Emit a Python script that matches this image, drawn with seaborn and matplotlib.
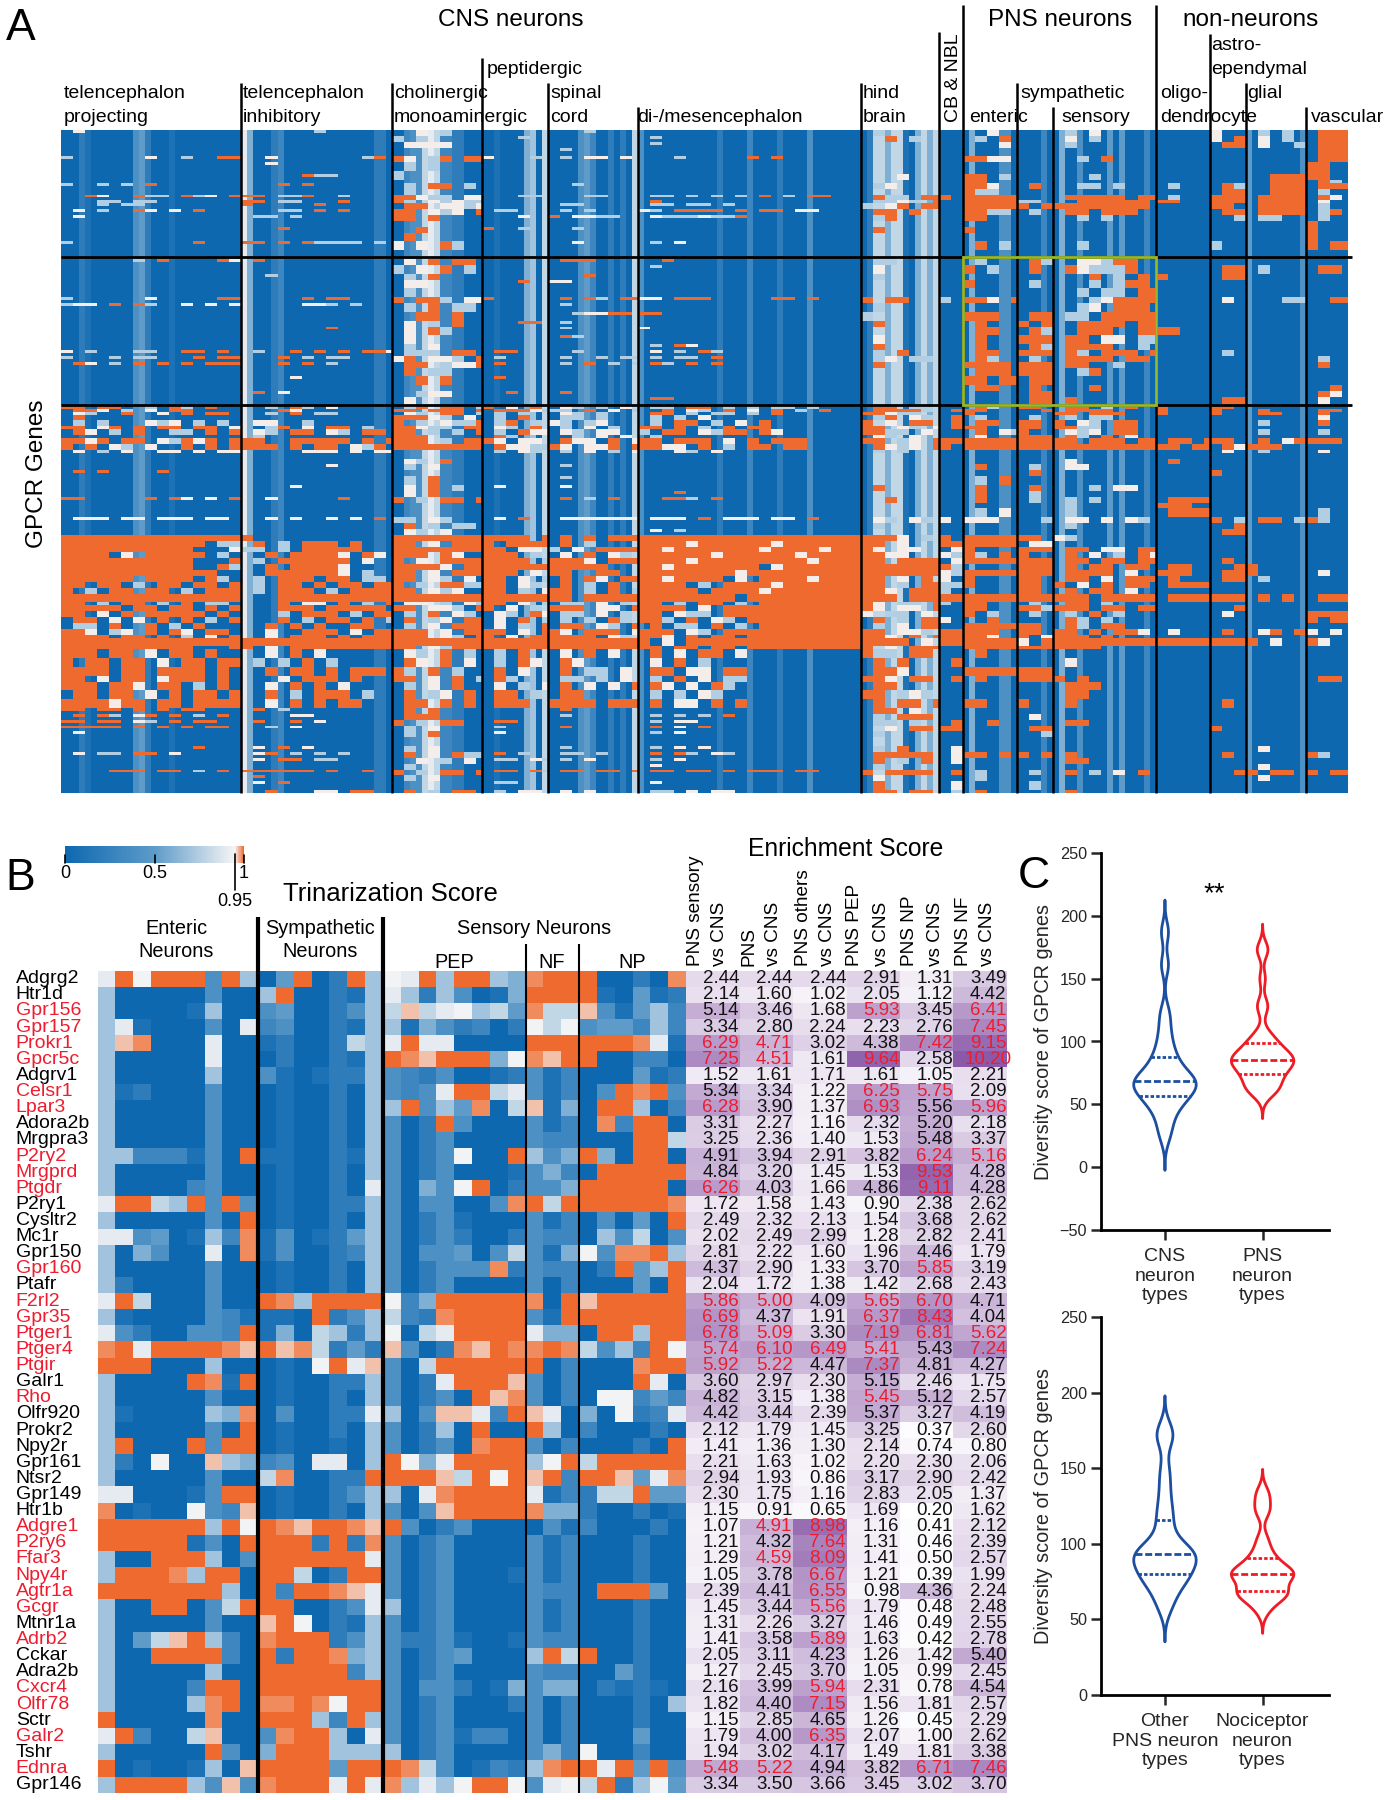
import numpy as np
import pandas as pd
import seaborn as sns
import matplotlib.pyplot as plt
from matplotlib.colors import LinearSegmentedColormap
from matplotlib.patches import Rectangle

sns.set_theme(style="white")
plt.rcParams['font.family'] = ['Liberation Sans', 'DejaVu Sans']

# ---- panel A data: P I C E S D H B N Y R O A G V, one char = 2 grid columns
A_group_cols = [30, 25, 15, 11, 15, 37, 13, 4, 9, 6, 17, 9, 6, 10, 7]
A_group_line_tops = [83, 83, 58, 83, 107, 83, 32, 5, 83, 107, 5, 34, 83, 107]
A_stripe_cols = [3, 4, 12, 13, 14, 18, 30, 31, 35, 36, 52, 53, 57, 58, 59, 60, 61, 62, 63, 64, 65, 66, 72, 77, 78, 80, 86, 87, 88, 91, 93,
                 95, 96, 109, 114, 119, 124, 134, 135, 136, 137, 138, 139, 140, 142, 143, 144, 145, 151, 156, 157, 163, 166, 169, 174, 176, 180, 197, 206]
A_stripe_levels = [2, 1, 4, 5, 2, 1, 9, 6, 2, 3, 2, 2, 3, 4, 4, 8, 9, 8, 3, 3, 2, 2, 1, 6, 7, 8, 4, 5, 3, 2, 2,
                   8, 4, 2, 3, 2, 4, 2, 8, 8, 6, 8, 8, 1, 6, 8, 6, 8, 6, 4, 4, 3, 6, 4, 5, 5, 3, 5, 4]
A_sparse_groups = [0, 1, 3, 4, 5]

A_rows_top = [
    (2, ".w.|......l.|..w.l.|.|...l.|.|.l.|.|..w.|.|.l.w.|.|w.|.l.l.|.ooo"),
    (2, ".|.|l.l.|...l.|.|.l.|..o.l.|.|.l.o.|.|.w.l.|.|w.o.|.w.l.|.ooo"),
    (2, ".|.|.wwww.|.|.|.l.|.|.|...w.|.|.l.|.|.oo.|.w..l.|.ooo"),
    (1, ".|.|.|.|.l.|.|.|.|.|.|.|.|.|.|.ooo"),
    (2, ".|.|.|.|.|.|.|.|.|.|.|.|.|.|.ooo"),
    (2, "l......w..l..oo.|..w.......lo.|ow.lo.oo|w...l.|.l.ww.w.|...l.....o.o.|.|.|ooww.|.|..l.o.|.|.|.|.ooo"),
    (3, ".|..w.|.l.l.|.|.|.|.|.|.|.|.|.|.|.|oo."),
    (1, ".|.|l.|.|.|.|.|.|.|.|.|.|.|.|oo."),
    (2, ".|.....oll.|l.|.|.|.|...w.|.|oo.l.|.|...l.|.|.|..oooo|oo."),
    (1, ".|.|.|.|.|.|.|.|oo.|.|.|.|.|..oooo|.ol"),
    (2, "l..l.l.o.|...o.o..|.l.oo.l.|.|..l.|.|.lw.|.|oow.|.o.|..ll.l.|.l.|.ol.|..oooo|.ooo"),
    (2, ".|.|.l.|.|.|.|.|.|oll.|.|.|.|.oo|..oooo|.l."),
    (2, "..ow..oll.olw.o.|oo.llo..l.|oowll.wwl.|...ll.|...ll.|.ll.l.l.l.o.l.oo.|.oll.oo.|o.|o|.|.ooooo.oo|.l.|o|.oooo|.ow."),
    (1, "...ll.ll.|oo.ll...o.|ol.wlwll.|.|.|.o.|.llwl.o.|.|o|ll.|..oooooo|oo.|o|.oooo|.w."),
    (2, "...l.ll.|o.....o.|.oo.wwlw.|.|.ll.|.ll.ll.l.|l.wo.oo.|.|o|o.o.|oooooooo|.|oo|.oooo|.l."),
    (2, ".w.l..ow.w.o.|...ll.o.o.|oo.wlw.o.|.ll.|.l.l.|wl.oooo.o.oo.ww.|.oo.o.|.|ooll.|.l.|.oo.ooo.|.|.oo|.oooo|.lo."),
    (2, ".w.|.ll.l.|oo.o.|...w.|o.wwll.|.wlllwllo.|.lo.|.|oo.|.|..l.l.|.|..l.|.ll.|.l."),
    (2, ".|.|.|.|.|.|.|.|.|.|.|.|.|.|o."),
    (2, ".|...o.|..o.|o..l.|..l.|.|.o.|.|o.|.|.|.|.|.|o."),
    (3, ".|.|.o.|.|.|.|.|.|.|.|.|.|.|.|o."),
    (3, "l..........o.|oo.o.ollll.l.|w.w.ol.|.|..w.|.l.w.|.|.|.o.l.|.|..l.|.|l.|.|o.oo."),
]

A_rows_mid = [
    (2, "......l.o....ow.|.o.|.w.o.oo.|.|.ooo.|..o.|.ll.|.|.l.|.ol.|..wwloo.|.|.|.|."),
    (3, ".|.|l.w.o.l.|.|.|.l.|.w.|.|o.l.|.o.|.owlllo.|.|.oo.|.l.|.oo."),
    (2, ".|..l.|.l.o.|.|...o.|.|.l.|.|.|.|...o.l.o.|o.|.oo.|.|."),
    (3, ".|.|.ww.|...o.|ww.|.|.|.|o.|.l.|...l.loo.|.|.|.|."),
    (3, ".|.|.l.|.|.|.|.|.|.|.|..l.ll.oo|.|.|.|."),
    (2, "l......w.....oo.|.....o.oo.|o.ool.wwo.|o.|.o.ol.oo.|ww.ooo.....oo.o.|o.oo.|l.|oow.ol.|.|...lwoooo|.|.w.w.|...lll.o.|..ool."),
    (3, "lww.o.ol..w.w.w.|.....wwl.l.|.l.o.ll.|.|.l.|.|.l.|.|.|.|..lw.ooo|.|.|.|."),
    (3, ".|.|..oo.o.|.|..lwwoo.|oo.|l.|.|ooo.|.oo.|.ll.ooooo|.|.|.|."),
    (2, ".|.|.w.l.o.|...oo.|.l.|.|.o.|.|.o.|o.o.|..oooo.oooo|.|.|.|."),
    (3, ".|.......o.|.w.ol.|.|.l.|w.|.|.|.oo.|.ol.|..ooo..oo|oo.|.|.|."),
    (3, ".|.|.w.|.|.ol.|.|.w.|.|.o.|ooo.|.oo.ww.ll|.|.|.|."),
    (2, ".|.|.l.w.|.|.|.l.ow.|.o.|.|.o.|.ol.|.oooo..l.o.|.|.|.|."),
    (2, "w.l...ll..oo.o.l.|.l..o.o.o.oow.|.lll.oo.|.oo.|..l.|.w.l.ol.|.l.o.|.|.oo.|ooo.|.ol.ooo.oo|.|.l.|.|."),
    (2, "l...l.ll...o.oo.|...o.l.ll.|wo.wwl.oo|.l.|.l..l.ll.|.l.ll.o.|.lw.ll.|.|.ol.|.l.|.oooo.oo.|.|.|.|.l."),
    (2, ".ow.l.o.o.o.ooo.|...o.o.l.|.oo.lwwooo.|.o.|.l.o.l.l.|.ol.o.o.|.o.|.|oooo|ooo|.oo..l.|.|.|.|.o."),
    (3, ".|.|.o.ll.|.|.|.|.|.|.ooo|ooo|..lo..|.|.|.|."),
    (3, ".|....w.|..o.o.|.o.|.|.|.|.|oo.oo|.ooo|.|.|.|.|."),
    (2, ".|.|.|.|.|.|.|.|.oo.|.o.oo|...o.|.|.|.|..o"),
    (2, ".|.o.w.|..lww.|..o.|.o..|.|.|.|.|.oo|.|.|.|.|.ow"),
    (3, ".|.|.w.|.|.|.oo.|.|.|.|.ooo|.o.|.|.oo|.|.w."),
    (2, ".|.|o.ww.|.|.|.|.oo.|.|.|.|.l.|.|.|.|."),
    (2, ".|.|.|.|.|.|.w|.|oo.|.oo|.l.ll|.|.|.|."),
]

A_rows_speck = [
    (1, "oo.oo..l.ol.o.|..l.ol.w.|.lo.oo.ll.|o.w.o.|.wl.l.w.|.ll.oo.l.l.ll.l.|.oo.ll.l.|.|.ol.|oo.|.oo.l.o.|o.|oo.|.|."),
    (1, ".oow.l.w.oo..|...ow.|oo.ooo.o.|.ooowl.|ll.o.w.l.|..o.wl.o.w.o.l.o.|.ooool.o.|.o.|oo.|..o.|.oooo|o.|o.|.o.|.oo."),
    (1, ".wl..o..w.o.oo.|..l.o.ll.|.wl.oo.ll|.l.l.|.wl.l.|.oo.l.ll.l.o.|oowll.|.|o.|.|oo.ooo.|o.|o.|.oo|.o."),
    (2, ".o.|.|ooowl.w.|.l.o.|.ll.l.|.l.l.w.|.lo.wl.|.o.|.l.|.l.|.l.ll.|.|.|.|.w."),
    (2, ".l.l...wlw.l.l.|.ww..l.|o.l.wllo|.lo.l.|wl.lw.|.l.oo.l.w.o|o.w.oo|.o.|.oo.|oo.|o.wl.oo.|.|.|.l.|.o."),
    (1, "oo.wo.o.oo.oo.ww.|..lo.w.oo.l.|oowll.oo|.wl.o.|.l.w.l.|oo.o.l.o.oo.|oo.wl.w.|.o.|oo.|oo.|ooll.oo|.|.|.|."),
    (2, ".ow.l.o..ll.o.o.|.wl.oo.wl.oo.l|oo.l.l.oo|.l.oww.|.wl.ww.|l.oo.wloo.ow.|ooll.w.|.|.o.wl|o.|.wlw.oo|.|.|.l.|.l."),
    (1, ".|.l.|ooo|.ol.|..l.w.w.|.l.|.wl.w|.|.w.|o|.ol.o.w.|.|.|.|."),
    (2, "oowo.oo.wlowo.oo|oo..ooooo.o.oo.|ooo.l.oo|ow.ww.ol|.oww.o.ww.o.|oo.ooo.w.o.ooo.|oo.lw.oo.|oo|o|o|oo.ooo.ooo|.oo.ooo|oo.w|.o.wooo|ooo"),
    (2, "o.o.wl.w..o.o.oo|ooo.o.oo.wlo|o|.owwlll|ow.wwo.o.|ooww.o.l.oo.oo.|.owlw.oo|o.|o|o|oooooooooooo|oo.oo|.ow.w|ooo"),
    (1, ".w.l.w..ww.w.ww|.....www.w.ww|.|.l.wl.|.l.w.l.w|...wl.w.|.l.l.|.|.|.|.|.|.w.|.l.|.w."),
]

A_rows_quiet = [
    (2, ".|.|.wl.o.|.|.|.|.|.|.|.|.w.|.o|.|.|.|."),
    (2, ".|.......w.|.l.w.|.|.l.|.|.|.|.o.|.l.|.ww.|.|.|.|."),
    (2, ".o.o....o.|.|.|.|.|.|.|.|.|.o.|.|.|o.|.|."),
    (3, ".|.|.l.o.|.|.l.|.|.|.|.l.o.|.|.|.|.|.|."),
    (2, ".|....w.|.w.o.l|.w|.w.|.|.o.|.|.o.|.o|...l.ww.|.|.|.|.|."),
    (2, ".|.|.w.o.|.|.|...o.|.|.|.o.|.l.|.|.|.|.|."),
    (2, "oo.....o.ow.w.o.|..w.....o.|o.l.oo.o.|.|.o.l.o.|..ool.o|..o|.|.o.|.l.|.l.l.|.oooo|.|.|."),
    (2, ".|.|.|.|.|.|.|.|.|.|.l.|ooo.|.|.|.|.ol."),
    (3, ".|.|.|.|.|.|.|.|.l.w.|.|.l.|.oooo.|.|.|.l.|."),
    (2, ".www.ww.www.ww.w|..w.w..w.w.o|ll.wl.|.w.o|.wwwwwww|.www.o.www.ww.o.|.wl.wl.|w.|www.|..l|.ww.w.wl|.|o.ll.|.oo.l|ol."),
    (2, ".|.|.o.l.ll.|.|.|.|.l.|.|.|.|.l.|.|..o.|.|."),
    (2, ".|.|.wl.w.|.|.|.w.l.|.|.|.|.|.|.|.oo|.|."),
]

A_rows_orange = [
    (2, "o|o.|o|oooo.o.w|.o.o.o|o|ooow.l|o.o|o|oo.oooo|wl.|.|.|.|."),
    (2, "oooooooooooo.ll|.o.l.ooo.o.|oo.w.oo|o.o|.o.l.|oooowoooooowooooo|oo.w.|oo.w.|oooo|.ww.oo.oo|.|.|.|."),
    (2, "ooooooooooo...w|ll.l.ooooo.|o|oo.ww|l.w.ooo|oowooooooowoooowo|ow.ww|.wl|o.|o|.oo.ww.oo.|.|.|.|."),
    (2, "oooo.w.ooooo.l.|..o.oooow.ow|ooo.ow|ooo.l|.w.o.wl.o|oooooowoooooowooo|ooww|wlo|ol.o.|o.|.o.w.l.ow.|.|.|.|."),
    (2, "ooooooooooo...o|.l.oooooo.w|o.w.oo|oooo.l|ooow.ooo|oooowooooooooowoo|oo.oo|.wl|o|o|.oo.oo.oo.|.|.o.|.|."),
    (2, "ooooooooooo..ol|..o.oooow.|oooow.oo|ooooo|ooooo.|oowooooooo.wooooooo|ooooo|ol|.|o|.o.oo.oo.|.oo.|..oo|o.|."),
    (2, "ooooooooooooo..|..oooooow.l|oo.w.ooo|ooo.w|oo..oo.|oooooooowooooooo|oooo|wl|ooo|o|.oooo.w.|ooo.|.oo|o.|.w."),
    (2, "oooooo.oooo.ol.|.l.ooo.oo.ll|oo.wl.w.|oo.w.l|.o.ow.o|oowoooo.w.oooowoo|oo.w.o.|w.|o.|oo.|.oo.w.ooo|.o.|.o|.l|."),
    (2, "oo.oo.l.oo.oo.o|.l.oo.o.oo.o|o.l.ooll.|oo.wl.|.o.l.o.|oooo.l.oooowooooo|oo.l.oo|ll|o.|oo.|o.w.o.oo.|.oo|..|.|."),
    (2, "o.l.oo.oo.l.oo|.l.ooo.l.ooo|oo.wlw.|oo.l.w|oo.l.o.l.|ooooo.oooowooooo|oow.ooo|l.|.|oo.|.o.oo.w.|.|.|.|."),
    (3, "oooooooooooooo|...ooooooooo|o|o|oo.o|oooooooo.ooo|ooo.oo|oo|oo|o|ooo.oo|.oooo|o|.o.o.oo|.ooo"),
]

A_rows_mixed = [
    (1, "oo.l.oo.l.o.ll.o|...o.ww.o.l.o.|.ww.l.wlw.|oo.w.ll.|.ll.w.l.|oo.l.oo.l.o|ow.ll.o|l.|oo.|.l.o.|.oo.l.|.|.|.|."),
    (2, "ooooo.oo.oo.o.ol|...ooo.ooooo.l|oo.wwl.oo.|o.w.l.|ooo.ww.o|oooo.w.ooo|ow.ww.oo.|.|oo.|ool|ooo.oo.oo|.|..ooo|.|."),
    (2, "oo.w.o.ooooo.o..|...l.ooo.l.oo|.l.o.wl.l|.wl.ow.|.ll.w.l.|oo.wll.oo|w.ll.w.|.|o.l|.l.o|.l.o.l.|.|.w.o|.|ooo"),
    (2, ".oo.w.w.o.o.l.ooo|...o.l.oo.o.l|.o.lw.oo|.w.o.l.|.l.l.ol.|ool.o.wl.o|.o.l.oo|w.|..o.|.|.ol.l.|.|.|.|o.o"),
    (2, ".ll.o..o.l.o...|..o.o.o..oo.|.l.w.ooo|.w.l.o|.oo.wl.o|.o.ll.o.l.o|.l.w.oo|.|ooo|oo.|.ol.oo.|.|.|.|."),
    (2, "oow.lw.o.ow.oo.w|..w..ooo.w.oo|ooo.w.o|oo.w.oo|ow.ooo.wl|ooo.wl.oo|oo.wwl.|oo|ooo.|oo.|oo.o.oow.|.w.|.o.|.wo.oo|w.w."),
    (1, "oooo.oo.o.l.w.o.|..w.ooo.o.oo|ooo.wl.oo|o.w.ooo|oooo.wl|oow.o.oo.o|oow.o.oo|o|oow.|o.w|ooo.o.|.|.|.|."),
    (3, "o|o|o|o|o|o.w.o|oooo.w.|oo|o|w.o|o|o|ooo.ooo|o.w.|ow.|.ll.o|ooo"),
    (1, "ooooooooooo...o|o.w.ooooo|oo.wlo|ooo|ooooo|oo.oo.oo.o|o.w.oo|.|oooo|ooo|oooo..|.|.|.|."),
]

A_rows_after = [
    (3, "ooo.oo.w.oo.o.|..w.o.w.|.wl.o.l|.l.o|.w.o.w|.o.w.oo.w.|oll.oo.|.|.o.|.|.|.|.|.|."),
    (3, "o.oo.oo.w.oo.oo.|.l.l.o.l.|.ow.o.w|.l.ow|.ow.|.w.o.l.|.o.o.|.o.|.|.|.w.|.|.|."),
    (3, "oooo.oo.oooo.o.ll|..o.oo.o.ooo.|ol.o.l.|.o.w.|.o.ll.w|.oo.ww.oo|.oow|.|ooooo|oooo|.|.|.|.|."),
    (2, "oo.w.oo.wooo.o.|...w.ooo.o.|oo.w.o.l|.ol.|.ll.l.w|.l.o.w.ll|oow.oo.|.o|.o.|ooo.|o.o.|.|.|.|.oo."),
    (3, "ooo.oow.oo.l.o.|..w.o.o.w.|.l.w.o|.w.l.w|.o.w.w.o|.ow.w.ol|.oo.|.|.|.|.ooo.|.|.|.|."),
    (3, ".oo.oo.w.o.oo.ow|..o.l.ooo.l|.o.lw.o.|.oo.l|.oo.|.l.l.wl|oo.lwl.|.|.|.|.oo.|.|.|.|."),
    (3, "oooowoo.oo.oooo.|..w.o.o.oo|.oo.o.o|.ooo.|oooo.ooo|.o.ww.o.o|.o.oo.o|.|oo.|o.|.o.|.|.o.|.|."),
]

A_rows_low = [
    (2, "oo.oo.o.o.oo.|.o.l.|.o.o.|.|.o.|.|.oo.w.|.|.|.|.|.|.|.|."),
    (2, ".o.ol.wo.o.l.o.|....ww.|.ooo.|.|.l.|.l.l.l.o|.l.ooo.o.|.|.|.w.|.|.|.|."),
    (2, "oo.oo.wl.o.oo.|.o..o.w.|o.l.oo.|.oo.|.|.l.ww.|.ll.l.|.o|..o.|.|.oo.|.|.|..|."),
    (2, "ooooo.o.o.o.oo.|..l.w.|.l.w.|.l.|.o.|.o.w.o.|..w.oo|oo.|.|.oo.|.|.|o.|.|."),
    (2, ".w.|.|.l.o.|.w.|.|.l.w.|.l.|.|.|..l.|.|.|.|.|."),
    (3, ".|.|.|.|.|.|.|.|.|.|.|.|.|.|."),
    (2, "...........o.|.w.o.w.|.l.w.|.|.l.|.l.w.w.|.l.o.|.w.|.|.|.|.|.|.w.|."),
    (2, ".w.ll.oo.w.|.wo.l.l.l.|.o.w.oll|.o.l.|.ll.l.|.o.ol.wl.|.ooooo.o|.w.|oo.o.|o.o.|.o.|.|.o.|.|ol."),
    (2, ".|.w.oo.ll.|..w.l.w.|.ll.wl.|.l.w.|.l.w.|.o.l.o.|.w.|.|.|.oo.|.|.|.|."),
    (2, ".|.|.l.|.|.|.w.|.l.|.|.|.|.|.|.|.w.|.|."),
    (2, "....ooo.oo.l.o.|oooooo.o..o.|o.l.oo.oo|.oo.ol|.oo.oo.o.|.oo.oo.o.ooo.oo.|o.oooo.o.|.o|.l.|.l.|.o.l.w.o|.|..oo|o.oo.|o.oo."),
    (2, ".|.o.....|.l.w.|.|.|.|.w.|.|.l.|.|.|.|.|.w."),
    (3, ".|.w.o.|.|.ll.|.|.w.|.o.|.w.|.|.l.|.|.|.|."),
    (3, ".|..o...ww.oo.|.o.l.oo|.l.ww.o|.w.w.|.ll.w.ww.|.oo.oo.|.l.|.o.|.|.o.|.|.|."),
]
A_section_rows = [44, 50, 18, 26, 23, 16, 20, 29]
A_section_fill = [False, False, False, False, True, True, False, False]
A_section_thin = [True, True, False, True, False, False, False, True]

# ---- panel B data
genes = ["Adgrg2", "Htr1d", "Gpr156", "Gpr157", "Prokr1", "Gpcr5c", "Adgrv1", "Celsr1", "Lpar3", "Adora2b", "Mrgpra3", "P2ry2", "Mrgprd",
         "Ptgdr", "P2ry1", "Cysltr2", "Mc1r", "Gpr150", "Gpr160", "Ptafr", "F2rl2", "Gpr35", "Ptger1", "Ptger4", "Ptgir", "Galr1", "Rho",
         "Olfr920", "Prokr2", "Npy2r", "Gpr161", "Ntsr2", "Gpr149", "Htr1b", "Adgre1", "P2ry6", "Ffar3", "Npy4r", "Agtr1a", "Gcgr", "Mtnr1a",
         "Adrb2", "Cckar", "Adra2b", "Cxcr4", "Olfr78", "Sctr", "Galr2", "Tshr", "Ednra", "Gpr146"]
red_genes = ["Gpr156", "Gpr157", "Prokr1", "Gpcr5c", "Celsr1", "Lpar3", "P2ry2", "Mrgprd", "Ptgdr", "Gpr160", "F2rl2", "Gpr35", "Ptger1",
             "Ptger4", "Ptgir", "Rho", "Adgre1", "P2ry6", "Ffar3", "Npy4r", "Agtr1a", "Gcgr", "Adrb2", "Cxcr4", "Olfr78", "Galr2", "Ednra"]
trinarization = [
    "9owooo4o7 05o02o7 w9o7oo76 soo o0020s", "700000400 7o00217 97274016 ooo o10512", "700001700 4500247 8p89w785 s88 p41573",
    "7910004 09 3400217 71642302 w8w 455373", "7ps000900 1200287 9o9 90000 ooo ooos91", "700000900 0200217 osp ooo6w spo o00330",
    "700000700 4101227 43240012 413 000512", "712000400 0100207 4349oo89 413 04oso4", "700000400 0100207 7o475s08 p16 0oo703",
    "700000400 0100207 402o4000 413 0s3oo0", "700000400 0100207 40240000 433 000oo8", "773331 40o 1100217 4024w00o 746 o60oo0",
    "700000400 0100207 40240001 463 0ooooo", "700003400 0100209 4064wo02 446 ooooo0", "9oo87o4o4 0100227 404400 4s o8o ooooos0",
    "70000040o 0100207 40241000 413 04050o", "99450173s 1401257 40242002 433 07480 4", "706400 90s 1400237 40445048 416 w4sso7o",
    "700000400 0100207 4024 44s2 433 02o57o", "720000400 0100207 40240000 403 00050o", "9o8000400 os7oooo w36ooooo s0o poooooo",
    "710000431 110o247 83 2sooo o 41o oooooo", "9420044 3o 1608727 w089oooo 966 0oo7oo", "so9oooosp o ps8252p 402sposs os8 473owo",
    "ooo000700 010wo9p 408ooooo o03 000soo", "70000os1o 0100227 4029ooop 403 000o90", "700000400 0100207 40240ops 403 0ww353",
    "710000 76s 0400229 7 04pp93op 906 0w2392", "70000040o 0100207 40270 o00o 703 000201", "7o000o4oo 0100107 40240so o 403 00020o",
    "720w00p76 3409907 ow69oooo 7wo 8ooooo", "700000400 8s00 22o ooop8owo po3 oop59s", "990001 4oo 0100247 709sooo o 913 288o55",
    "s0100w43p 0100207 404poooo s66 200201", "oooooo7ow ospoospo 40240000 413 000200", "ooooo140o ooo2o2s 40240000 413 000200",
    "700ooo704 oooooo9 40240000 413 000200", "7ooos7oo0 oo8 02oo 40240001 413 000200", "ooooooo70 o3oosp9 40240000 433 0ooo50",
    "700oo048o oo00249 70240000 413 000200", "700000400 pow0217 40240000 413 000200", "7058po730 sooo247 42241001 433 000200",
    "700oooo30 o2oos67 40245000 7o8 o00200", "700000700 ooooo37 40240000 433 005200", "700003oo0 ooooooo 40442016 466 021210",
    "700007so0 ssoswoo 40240002 403 000207", "o00000s00 ooo73o7 40240000 403 000200", "9o30 08p00 4soo709 40241330 403 000500",
    "700000o40 6ooo777 70240000 463 w00300", "o01001 70p ooo o5oo os840132 7so o9o5o4", "7oooo74p4 sooo9o9 s797woo w4 9w8 o27w5o",
]
enrich_columns = ["PNS sensory", "PNS", "PNS others", "PNS PEP", "PNS NP", "PNS NF"]
enrich_sensory = [2.44, 2.14, 5.14, 3.34, 6.29, 7.25, 1.52, 5.34, 6.28, 3.31, 3.25, 4.91, 4.84, 6.26, 1.72, 2.49, 2.02, 2.81, 4.37, 2.04, 5.86, 6.69, 6.78, 5.74, 5.92, 3.60, 4.82, 4.42, 2.12, 1.41, 2.21, 2.94, 2.30, 1.15, 1.07, 1.21, 1.29, 1.05, 2.39, 1.45, 1.31, 1.41, 2.05, 1.27, 2.16, 1.82, 1.15, 1.79, 1.94, 5.48, 3.34]
enrich_pns = [2.44, 1.60, 3.46, 2.80, 4.71, 4.51, 1.61, 3.34, 3.90, 2.27, 2.36, 3.94, 3.20, 4.03, 1.58, 2.32, 2.49, 2.22, 2.90, 1.72, 5.00, 4.37, 5.09, 6.10, 5.22, 2.97, 3.15, 3.44, 1.79, 1.36, 1.63, 1.93, 1.75, 0.91, 4.91, 4.32, 4.59, 3.78, 4.41, 3.44, 2.26, 3.58, 3.11, 2.45, 3.99, 4.40, 2.85, 4.00, 3.02, 5.22, 3.50]
enrich_others = [2.44, 1.02, 1.68, 2.24, 3.02, 1.61, 1.71, 1.22, 1.37, 1.16, 1.40, 2.91, 1.45, 1.66, 1.43, 2.13, 2.99, 1.60, 1.33, 1.38, 4.09, 1.91, 3.30, 6.49, 4.47, 2.30, 1.38, 2.39, 1.45, 1.30, 1.02, 0.86, 1.16, 0.65, 8.98, 7.64, 8.09, 6.67, 6.55, 5.56, 3.27, 5.89, 4.23, 3.70, 5.94, 7.15, 4.65, 6.35, 4.17, 4.94, 3.66]
enrich_pep = [2.91, 2.05, 5.93, 2.23, 4.38, 9.64, 1.61, 6.25, 6.93, 2.32, 1.53, 3.82, 1.53, 4.86, 0.90, 1.54, 1.28, 1.96, 3.70, 1.42, 5.65, 6.37, 7.19, 5.41, 7.37, 5.15, 5.45, 5.37, 3.25, 2.14, 2.20, 3.17, 2.83, 1.69, 1.16, 1.31, 1.41, 1.21, 0.98, 1.79, 1.46, 1.63, 1.26, 1.05, 2.31, 1.56, 1.26, 2.07, 1.49, 3.82, 3.45]
enrich_np = [1.31, 1.12, 3.45, 2.76, 7.42, 2.58, 1.05, 5.75, 5.56, 5.20, 5.48, 6.24, 9.53, 9.11, 2.38, 3.68, 2.82, 4.46, 5.85, 2.68, 6.70, 8.43, 6.81, 5.43, 4.81, 2.46, 5.12, 3.27, 0.37, 0.74, 2.30, 2.90, 2.05, 0.20, 0.41, 0.46, 0.50, 0.39, 4.36, 0.48, 0.49, 0.42, 1.42, 0.99, 0.78, 1.81, 0.45, 1.00, 1.81, 6.71, 3.02]
enrich_nf = [3.49, 4.42, 6.41, 7.45, 9.15, 10.20, 2.21, 2.09, 5.96, 2.18, 3.37, 5.16, 4.28, 4.28, 2.62, 2.62, 2.41, 1.79, 3.19, 2.43, 4.71, 4.04, 5.62, 7.24, 4.27, 1.75, 2.57, 4.19, 2.60, 0.80, 2.06, 2.42, 1.37, 1.62, 2.12, 2.39, 2.57, 1.99, 2.24, 2.48, 2.55, 2.78, 5.40, 2.45, 4.54, 2.57, 2.29, 2.62, 3.38, 7.46, 3.70]
enrich_red_from = [5.4, 4.5, 5.0, 5.4, 5.6, 5.0]

# ---- panel C data
cns_scores = [22, 26, 33, 35, 40, 44, 47, 49, 51, 52, 54, 55, 57, 58, 60, 61, 62, 63, 64, 65, 66, 66, 67, 68, 69, 70, 71, 72, 73, 74, 76, 78, 80, 83, 85, 87, 90, 94, 98, 102, 108, 113, 122, 124, 160, 162, 186, 188]
pns_scores = [58, 60, 62, 63, 66, 69, 71, 73, 75, 77, 79, 80, 82, 83, 84, 85, 86, 87, 88, 90, 91, 93, 95, 98, 100, 103, 107, 126, 130, 150, 172, 174]
other_scores = [57, 62, 68, 72, 75, 77, 78, 80, 82, 85, 87, 89, 90, 91, 93, 94, 95, 96, 98, 102, 110, 116, 122, 130, 140, 150, 168, 172, 176]
noci_scores = [55, 60, 63, 65, 66, 67, 68, 69, 71, 74, 76, 78, 79, 80, 80, 81, 82, 83, 85, 88, 90, 93, 98, 104, 120, 124, 130, 135]

score_cmap = LinearSegmentedColormap.from_list("score", [(0, "#0e68b0"), (0.5, "#5d9bc9"), (0.95, "#f5f5f5"), (1, "#ee6a2f")])
enrich_cmap = LinearSegmentedColormap.from_list("enrich", ["#ffffff", "#8a5aa8"])
A_levels = {"o": 1.0, "w": 0.95, "l": 0.75, "m": 0.45}
B_levels = {"w": 0.94, "p": 0.965, "s": 0.985, "o": 1.0}
red_text = "#ee1c2e"

W, H = 1390, 1800
fig = plt.figure(figsize=(W / 100, H / 100), dpi=100)


def px_axes(x0, y0, x1, y1):
    return fig.add_axes([x0 / W, 1 - y1 / H, (x1 - x0) / W, (y1 - y0) / H])


def px_text(x, y, s, size=14, ha="left", va="center", **kw):
    fig.text(x / W, 1 - y / H, s, fontsize=size, ha=ha, va=va, color=kw.pop("color", "black"), **kw)


def build_panel_a():
    n_cols = sum(A_group_cols)
    baseline = np.zeros(n_cols)
    baseline[A_stripe_cols] = np.array(A_stripe_levels) / 10
    sections = [A_rows_top, A_rows_mid, A_rows_speck, A_rows_quiet, A_rows_orange, A_rows_mixed, A_rows_after, A_rows_low]
    matrix = []
    for section, n_rows, use_fill, thin in zip(sections, A_section_rows, A_section_fill, A_section_thin):
        lines = []
        for repeat, spec in section:
            segs = spec.split("|") + ["."] * 15
            row = baseline.copy()
            later = baseline.copy()
            start = 0
            for k, (seg, width) in enumerate(zip(segs, A_group_cols)):
                cells = "".join(c * 2 for c in seg)
                if len(seg) == 1 or (use_fill and seg[-1] == "o"):
                    fill = seg[-1]
                else:
                    fill = "."
                cells = (cells + fill * width)[:width]
                for j, c in enumerate(cells):
                    if c != ".":
                        row[start + j] = A_levels[c]
                if not (thin and k in A_sparse_groups):
                    later[start:start + width] = row[start:start + width]
                start += width
            lines += [row] + [later] * (repeat - 1)
        lines = (lines + [baseline] * n_rows)[:n_rows]
        matrix += lines
    return np.array(matrix)


# panel A
ax_a = px_axes(61, 130, 1348, 793)
A_matrix = build_panel_a()
sns.heatmap(A_matrix, ax=ax_a, cmap=score_cmap, vmin=0, vmax=1, cbar=False, xticklabels=False, yticklabels=False, rasterized=True)
n_rows, n_cols = A_matrix.shape
row_px = 663 / n_rows
edge = 0
for width, top in zip(A_group_cols[:-1], A_group_line_tops):
    edge += width
    ax_a.plot([edge, edge], [(top - 130) / row_px, n_rows], color="black", lw=1.8, clip_on=False, solid_capstyle="butt")
for y_px in [257, 405]:
    ax_a.plot([0, n_cols + 0.6], [(y_px - 130) / row_px] * 2, color="black", lw=2, clip_on=False, solid_capstyle="butt")
ax_a.add_patch(Rectangle((150, (257 - 130) / row_px), 32, (405 - 257) / row_px, fill=False, ec="#9ab92a", lw=2, clip_on=False, zorder=6))

px_text(6, 28, "A", size=32)
px_text(511, 20, "CNS neurons", size=17.5, ha="center")
px_text(1060, 20, "PNS neurons", size=17.5, ha="center")
px_text(1251, 20, "non-neurons", size=17.5, ha="center")
for x, y, label in [(64, 94, "telencephalon"), (64, 118, "projecting"), (243, 94, "telencephalon"), (243, 118, "inhibitory"),
                    (394, 94, "cholinergic"), (394, 118, "monoaminergic"), (487, 70, "peptidergic"), (550, 94, "spinal"),
                    (550, 118, "cord"), (637, 118, "di-/mesencephalon"), (863, 94, "hind"), (863, 118, "brain"),
                    (969, 118, "enteric"), (1020, 94, "sympathetic"), (1061, 118, "sensory"), (1160, 94, "oligo-"),
                    (1160, 118, "dendrocyte"), (1211, 46, "astro-"), (1211, 70, "ependymal"), (1247, 94, "glial"), (1311, 118, "vascular")]:
    px_text(x, y, label, size=14)
px_text(953, 78, "CB & NBL", size=14, ha="center", rotation=90)
px_text(37, 474, "GPCR Genes", size=17.5, ha="center", rotation=90)

# panel B
ax_b = px_axes(97.6, 970.7, 686, 1792.7)
ax_cb = px_axes(65, 846, 244, 863)
B_rows = [r.replace(" ", "") for r in trinarization]
B_matrix = np.array([[B_levels[c] if c in B_levels else int(c) / 10 for c in (r + "0" * 33)[:33]] for r in B_rows])
sns.heatmap(B_matrix, ax=ax_b, cmap=score_cmap, vmin=0, vmax=1, cbar=True, cbar_ax=ax_cb, xticklabels=False, yticklabels=genes,
            cbar_kws={"orientation": "horizontal", "ticks": []}, rasterized=True)
ax_cb.set_frame_on(False)
for v in [0, 0.5, 1.0]:
    ax_cb.plot([v, v], [0, 0.5], color="black", lw=1.2, clip_on=False)
ax_cb.plot([0.95, 0.95], [-1.6, 0.55], color="black", lw=1.2, clip_on=False)
for x, y, label in [(65, 873, "0"), (155, 873, "0.5"), (244, 873, "1"), (235, 901, "0.95")]:
    px_text(x, y, label, size=13, ha="center")

ax_b.tick_params(axis="y", length=0, pad=59, labelsize=14)
for t, g in zip(ax_b.get_yticklabels(), genes):
    t.set_ha("left")
    t.set_rotation(0)
    t.set_color(red_text if g in red_genes else "black")

for col, top_px, lw in [(9, 917, 3), (16, 917, 3), (24, 944, 1.5), (27, 944, 1.5)]:
    ax_b.plot([col, col], [(top_px - 970.7) / 16.12, 51], color="black", lw=lw, clip_on=False, solid_capstyle="butt")

px_text(5, 878, "B", size=32)
px_text(390, 894, "Trinarization Score", size=18.5, ha="center")
for x, y, label in [(176, 928, "Enteric"), (176, 952, "Neurons"), (320, 928, "Sympathetic"), (320, 952, "Neurons"),
                    (534, 928, "Sensory Neurons"), (454, 963, "PEP"), (552, 963, "NF"), (632, 963, "NP")]:
    px_text(x, y, label, size=14.3, ha="center")

# enrichment table
ax_e = px_axes(686, 970.7, 1007, 1792.7)
enrich = pd.DataFrame({"PNS sensory": enrich_sensory, "PNS": enrich_pns, "PNS others": enrich_others, "PNS PEP": enrich_pep,
                       "PNS NP": enrich_np, "PNS NF": enrich_nf}, index=genes)[enrich_columns]
sns.heatmap(enrich, ax=ax_e, cmap=enrich_cmap, vmin=0.2, vmax=10.2, cbar=False, xticklabels=False, yticklabels=False,
            annot=enrich.map(lambda v: f"{v:.2f}"), fmt="", annot_kws={"fontsize": 13.5, "color": "black"}, rasterized=True)
texts = iter(ax_e.texts)
for i, gene in enumerate(genes):
    for j, column in enumerate(enrich_columns):
        t = next(texts)
        x, y = t.get_position()
        t.set_position((x + 0.15, y))
        v = enrich.loc[gene, column]
        if v >= enrich_red_from[j] and not (gene == "Cckar" and column == "PNS NF"):
            t.set_color(red_text)
        else:
            t.set_color("#111111")

for x, label, in [(695, "PNS sensory"), (720, "vs CNS"), (749, "PNS"), (773, "vs CNS"), (803, "PNS others"), (827, "vs CNS"),
                  (855, "PNS PEP"), (881, "vs CNS"), (909, "PNS NP"), (935, "vs CNS"), (963, "PNS NF"), (988, "vs CNS")]:
    px_text(x, 966, label, size=13.7, ha="center", va="bottom", rotation=90)
px_text(846, 849, "Enrichment Score", size=17.7, ha="center")


# panel C
def violin_panel(box, values_a, values_b, labels, ylim, yticks, bw, cut):
    ax = px_axes(*box)
    frame = pd.DataFrame({"group": [labels[0]] * len(values_a) + [labels[1]] * len(values_b), "score": values_a + values_b})
    sns.violinplot(data=frame, x="group", y="score", hue="group", palette=["#1c4fa0", "#ee1c25"], legend=False, fill=False, inner="quart",
                   linewidth=2, width=0.64, density_norm="width", bw_method=bw, cut=cut, ax=ax)
    ax.set_xlim(-0.655, 1.68)
    ax.set_ylim(*ylim)
    ax.set_yticks(yticks)
    ax.set_xlabel("")
    ax.set_ylabel("Diversity score of GPCR genes", fontsize=14.3, labelpad=5)
    ax.tick_params(axis="y", length=7, width=1.8, labelsize=11.7, left=True, pad=3)
    ax.tick_params(axis="x", length=7, width=1.8, labelsize=14, bottom=True, pad=6)
    ax.patch.set_alpha(0)
    sns.despine(ax=ax)
    for side in ["left", "bottom"]:
        ax.spines[side].set_linewidth(2)
        ax.spines[side].set_color("black")
    return ax


violin_panel((1101, 853, 1329, 1230), cns_scores, pns_scores, ["CNS\nneuron\ntypes", "PNS\nneuron\ntypes"], (-50, 250), [-50, 0, 50, 100, 150, 200, 250], 0.22, 3.0)
violin_panel((1101, 1317, 1329, 1695), other_scores, noci_scores, ["Other\nPNS neuron\ntypes", "Nociceptor\nneuron\ntypes"], (0, 250), [0, 50, 100, 150, 200, 250], 0.24, 2.8)
px_text(1034, 877, "C", size=32, ha="center")
px_text(1214, 894, "**", size=20, ha="center")

fig.savefig("out.png", dpi=100, facecolor="white")
